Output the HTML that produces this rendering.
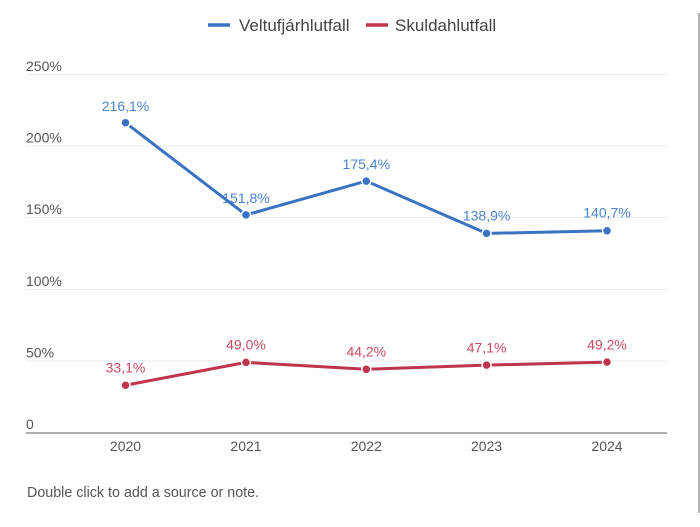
<!DOCTYPE html>
<html><head><meta charset="utf-8"><style>
html,body{margin:0;padding:0;background:#fff;}
svg{display:block;font-family:"Liberation Sans",Arial,sans-serif;}
</style></head><body>
<svg width="700" height="527" viewBox="0 0 700 527" xmlns="http://www.w3.org/2000/svg">
<rect width="700" height="527" fill="#fff"/>
<line x1="699" y1="13" x2="699" y2="513" stroke="#9a9a9a" stroke-width="1.5"/>
<!-- legend -->
<line x1="208" y1="25" x2="230" y2="25" stroke="#3a73c2" stroke-width="3.5"/>
<text x="239" y="31" font-size="17" fill="#444">Veltufjárhlutfall</text>
<line x1="366" y1="25" x2="388" y2="25" stroke="#bf354e" stroke-width="3.5"/>
<text x="395" y="31" font-size="17" fill="#444">Skuldahlutfall</text>
<!-- gridlines -->
<g stroke="#ebebeb" stroke-width="1">
<line x1="26" y1="74.5" x2="667" y2="74.5"/>
<line x1="26" y1="146" x2="667" y2="146"/>
<line x1="26" y1="217.5" x2="667" y2="217.5"/>
<line x1="26" y1="289.5" x2="667" y2="289.5"/>
<line x1="26" y1="361" x2="667" y2="361"/>
</g>
<line x1="26" y1="433" x2="667" y2="433" stroke="#b0b0b0" stroke-width="2"/>
<!-- y labels -->
<g font-size="14" fill="#555">
<text x="26" y="71">250%</text>
<text x="26" y="142.5">200%</text>
<text x="26" y="214">150%</text>
<text x="26" y="286">100%</text>
<text x="26" y="357.5">50%</text>
<text x="26" y="429">0</text>
</g>
<!-- x labels -->
<g font-size="14" fill="#555" text-anchor="middle">
<text x="125.5" y="451">2020</text>
<text x="246" y="451">2021</text>
<text x="366.3" y="451">2022</text>
<text x="486.6" y="451">2023</text>
<text x="607" y="451">2024</text>
</g>
<!-- blue series -->
<polyline points="125.5,122.7 246,214.9 366.3,181.1 486.6,233.4 607,230.8" fill="none" stroke="#3a73c2" stroke-width="3" stroke-linejoin="round"/>
<g fill="#3a73c2" stroke="#fff" stroke-width="1.5">
<circle cx="125.5" cy="122.7" r="4.5"/>
<circle cx="246" cy="214.9" r="4.5"/>
<circle cx="366.3" cy="181.1" r="4.5"/>
<circle cx="486.6" cy="233.4" r="4.5"/>
<circle cx="607" cy="230.8" r="4.5"/>
</g>
<g font-size="14" fill="#4a84d0" text-anchor="middle">
<text x="125.5" y="111">216,1%</text>
<text x="246" y="203">151,8%</text>
<text x="366.3" y="169">175,4%</text>
<text x="486.6" y="220.5">138,9%</text>
<text x="607" y="217.5">140,7%</text>
</g>
<!-- red series -->
<polyline points="125.5,385.2 246,362.4 366.3,369.3 486.6,365.1 607,362.1" fill="none" stroke="#bf354e" stroke-width="3" stroke-linejoin="round"/>
<g fill="#bf354e" stroke="#fff" stroke-width="1.5">
<circle cx="125.5" cy="385.2" r="4.5"/>
<circle cx="246" cy="362.4" r="4.5"/>
<circle cx="366.3" cy="369.3" r="4.5"/>
<circle cx="486.6" cy="365.1" r="4.5"/>
<circle cx="607" cy="362.1" r="4.5"/>
</g>
<g font-size="14" fill="#c84a62" text-anchor="middle">
<text x="125.5" y="372.5">33,1%</text>
<text x="246" y="349.5">49,0%</text>
<text x="366.3" y="356.5">44,2%</text>
<text x="486.6" y="352.5">47,1%</text>
<text x="607" y="349.5">49,2%</text>
</g>
<!-- note -->
<text x="27" y="497" font-size="14.3" fill="#555">Double click to add a source or note.</text>
</svg>
</body></html>
